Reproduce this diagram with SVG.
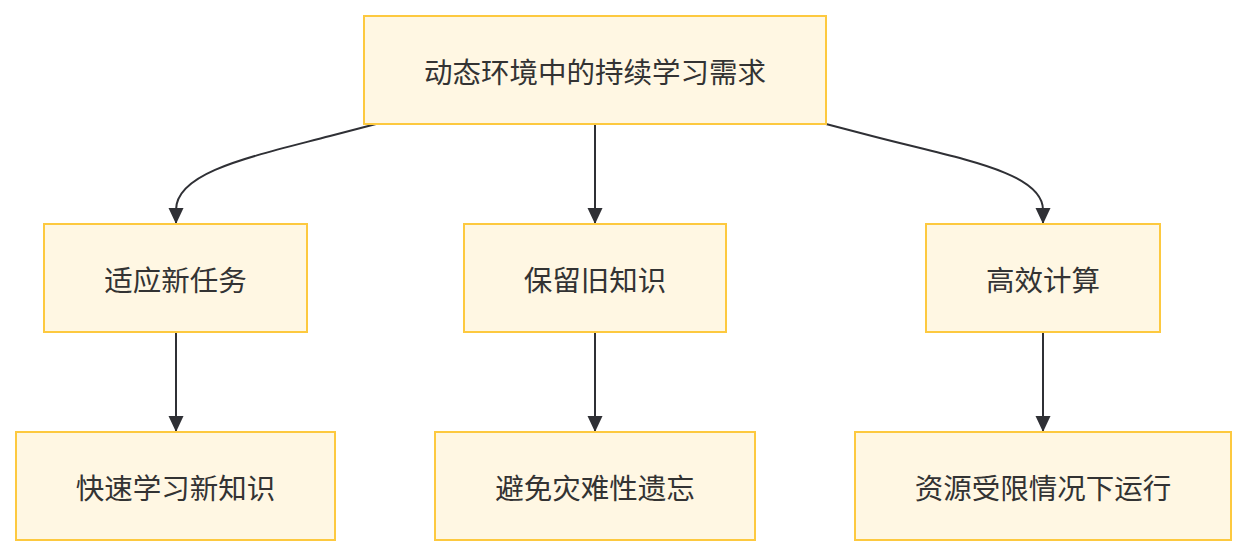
<svg xmlns="http://www.w3.org/2000/svg" width="1248" height="556" viewBox="0 0 1248 556">
<style>
.node rect{fill:#fff7e3;stroke:#fdc93f;stroke-width:2}
.node text{font-family:"Noto Sans CJK SC","Noto Sans",sans-serif;font-size:28.5px;fill:#333333;text-anchor:middle;dominant-baseline:central}
.edge{fill:none;stroke:#2f3035;stroke-width:2;marker-end:url(#arrow)}
</style>
<defs>
<marker id="arrow" markerUnits="userSpaceOnUse" markerWidth="16" markerHeight="16" refX="16" refY="8" orient="auto">
<path d="M0,0.5 L16,8 L0,15.5 z" fill="#2f3035"/>
</marker>
</defs>
<rect width="1248" height="556" fill="#ffffff"/>
<g id="connectors">
<path class="edge" d="M376,124 L330,136 C250,157 176,172 176,210 L176,224"/>
<path class="edge" d="M595,124 L595,224"/>
<path class="edge" d="M826,124 L872,136 C960,159 1043,172 1043,210 L1043,224"/>
<path class="edge" d="M176,332 L176,432"/>
<path class="edge" d="M595,332 L595,432"/>
<path class="edge" d="M1043,332 L1043,432"/>
</g>
<g id="n_top" class="node"><rect x="364" y="16" width="462" height="108"/><text x="595" y="70">动态环境中的持续学习需求</text></g>
<g id="n_adapt" class="node"><rect x="44" y="224" width="263" height="108"/><text x="175.5" y="278">适应新任务</text></g>
<g id="n_retain" class="node"><rect x="464" y="224" width="262" height="108"/><text x="595" y="278">保留旧知识</text></g>
<g id="n_efficient" class="node"><rect x="926" y="224" width="234" height="108"/><text x="1043" y="278">高效计算</text></g>
<g id="n_fast" class="node"><rect x="16" y="432" width="319" height="108"/><text x="175.5" y="486">快速学习新知识</text></g>
<g id="n_avoid" class="node"><rect x="435" y="432" width="320" height="108"/><text x="595" y="486">避免灾难性遗忘</text></g>
<g id="n_resource" class="node"><rect x="855" y="432" width="376" height="108"/><text x="1043" y="486">资源受限情况下运行</text></g>
</svg>
